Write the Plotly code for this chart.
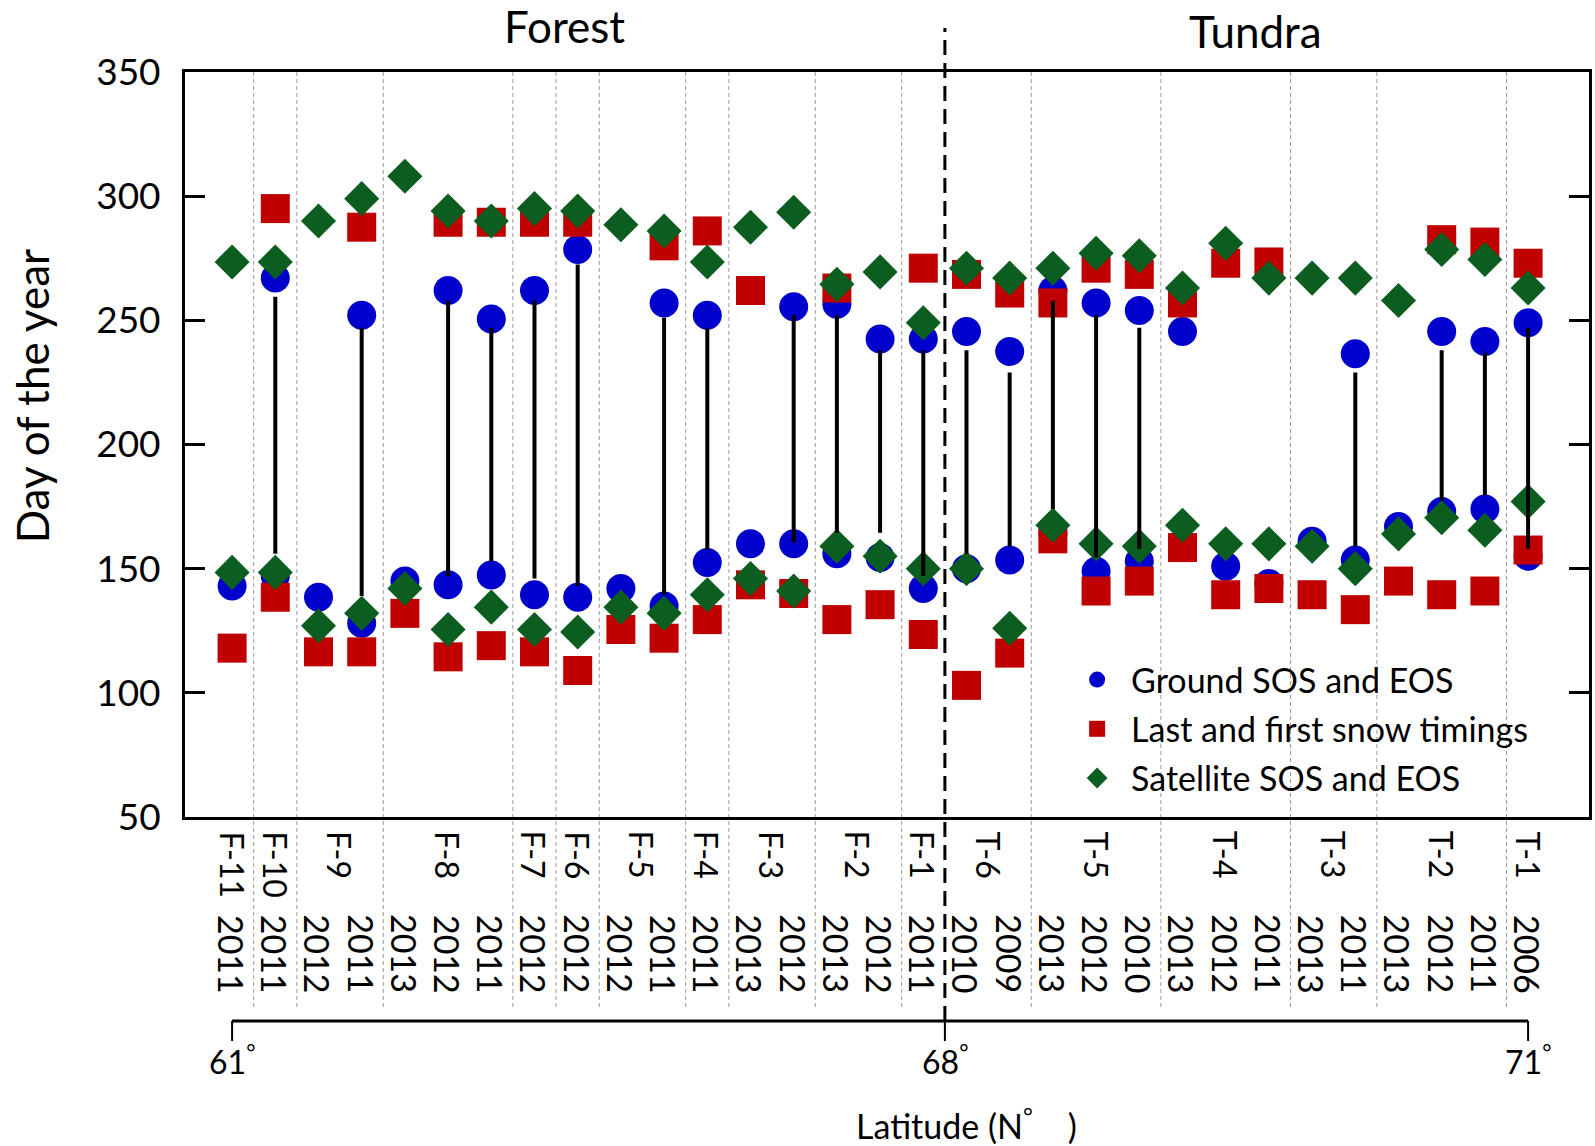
import plotly.graph_objects as go

# ---- data -------------------------------------------------------------
# one column per site-year, ordered by latitude (south -> north)
site_names = ["F-11", "F-10", "F-9", "F-8", "F-7", "F-6", "F-5", "F-4", "F-3", "F-2", "F-1",
              "T-6", "T-5", "T-4", "T-3", "T-2", "T-1"]
site_centers = [0, 1, 2.5, 5, 7, 8, 9.5, 11, 12.5, 14.5, 16,
                17.5, 20, 23, 25.5, 28, 30]
site_bounds = [0.5, 1.5, 3.5, 6.5, 7.5, 8.5, 10.5, 11.5, 13.5, 15.5,
               18.5, 21.5, 24.5, 26.5, 29.5]
zone_bound = 16.5

years = [2011, 2011, 2012, 2011, 2013, 2012, 2011, 2012, 2012, 2012, 2011, 2011, 2013, 2012,
         2013, 2012, 2011,
         2010, 2009, 2013, 2012, 2010, 2013, 2012, 2011, 2013, 2011, 2013, 2012, 2011, 2006]

ground_sos = [143, 147, 138.5, 128, 145, 143.5, 147.5, 139.5, 138.5, 142, 135, 152.5, 160, 160,
              156, 154.5, 142,
              150, 153.5, 164, 149, 153, None, 151, 144, 161, 153.5, 167, 173, 174, 155]
ground_eos = [None, 267, None, 252, None, 262, 250.5, 262, 278.5, None, 257, 252, None, 255.5,
              256.5, 242.5, 242.5,
              245.5, 237.5, 262, 257, 254, 245.5, None, None, None, 236.5, None, 245.5, 241.5, 249]

snow_last = [118, 138.5, 116.5, 116.5, 132, 114.5, 119, 116.5, 109, 125.5, 122, 129.5, 143.5, 140,
             129.5, 135.5, 123.5,
             103, 116, 162, 141, 145, 158.5, 139.5, 142, 139.5, 133.5, 145, 139.5, 141, 157.5]
snow_first = [None, 295, None, 287.5, None, 289.5, 289.5, 289.5, 289.5, None, 280, 286, 262, None,
              263, None, 271,
              268.5, 261, 257, 271, 268.5, 257, 273, 273.5, None, None, None, 282.5, 281.5, 273]

sat_sos = [148.5, 148.5, 127, 132, 142, 125.5, 134.5, 125.5, 124.5, 134.5, 132, 139.5, 146, 141,
           159, 155, 150,
           150, 126, 167.5, 160, 159, 167.5, 160, 160, 159, 150, 164, 170.5, 165.5, 177]
sat_eos = [273.5, 273.5, 290, 299, 308, 294, 290, 295, 294, 288.5, 286, 273.5, 287.5, 293.5,
           264.5, 269.5, 249,
           271, 267, 271, 277, 276, 263, 281, 267, 267, 267, 258, 278.5, 274.5, 263]

# growing-season bars (upper and lower ends)
season_top = [None, 259.5, None, 247, None, 258, 247, 258, 272.5, None, 251, 247, None, 252,
              252, 238, 238,
              238, 229, 258, 252, 247, None, None, None, None, 229, None, 238, 237, 247]
season_bottom = [None, 156, None, 139, None, 147, 153, 146, 143, None, 139.5, 157.5, None, 160.5,
                 164.5, 164.5, 147,
                 156, 159, 174, 154.5, 158, None, None, None, None, 159, None, 177.5, 179.5, 158]

lat_pos = [0, 16.5, 30]
lat_text = ["61", "68", "71"]

# ---- styling ----------------------------------------------------------
FONT = "Lato"
BLUE = "#0000CC"
RED = "#C00000"
GREEN = "#0B5E1F"

W, H = 1595, 1146
ML, MR, MT, MB = 185, 3, 72, 329
PH = H - MT - MB


def py(px_from_top):
    """paper y for an absolute pixel row"""
    return (H - MB - px_from_top) / PH


def px(px_from_left):
    return (px_from_left - ML) / (W - ML - MR)


def txt(size):
    return dict(size=size, family=FONT, color="black")


idx = list(range(len(years)))

fig = go.Figure()


def pair_trace(lower, upper, name, symbol, size, color):
    xs, ys = [], []
    for i in idx:
        for v in (lower[i], upper[i]):
            if v is not None:
                xs.append(i)
                ys.append(v)
    fig.add_trace(go.Scatter(
        x=xs, y=ys, mode="markers", name=name, legendgroup=name,
        marker=dict(symbol=symbol, size=size, color=color, line=dict(width=0)),
    ))


pair_trace(ground_sos, ground_eos, "Ground SOS and EOS", "circle", 29, BLUE)
pair_trace(snow_last, snow_first, "Last and first snow timings", "square", 29, RED)
pair_trace(sat_sos, sat_eos, "Satellite SOS and EOS", "diamond", 27, GREEN)

lx, ly = [], []
for i in idx:
    if season_top[i] is not None and season_bottom[i] is not None:
        lx += [i, i, None]
        ly += [season_top[i], season_bottom[i], None]
fig.add_trace(go.Scatter(x=lx, y=ly, mode="lines", line=dict(color="black", width=4),
                         showlegend=False, hoverinfo="skip"))

shapes = []
for b in site_bounds:
    shapes.append(dict(type="line", xref="x", yref="paper", x0=b, x1=b,
                       y0=py(1007), y1=1, line=dict(color="#9a9a9a", width=1, dash="4px,3px"),
                       layer="below"))
shapes.append(dict(type="line", xref="x", yref="paper", x0=zone_bound, x1=zone_bound,
                   y0=py(1021), y1=py(28), line=dict(color="black", width=3, dash="15px,8px")))
# latitude bar
shapes.append(dict(type="line", xref="x", yref="paper", x0=lat_pos[0], x1=lat_pos[-1],
                   y0=py(1021), y1=py(1021), line=dict(color="black", width=3)))
for p in lat_pos:
    shapes.append(dict(type="line", xref="x", yref="paper", x0=p, x1=p,
                       y0=py(1021), y1=py(1041), line=dict(color="black", width=2)))

ann = []
ann.append(dict(text="Forest", x=7.7, xref="x", y=py(26), yref="paper", xanchor="center",
                yanchor="middle", showarrow=False, font=txt(44)))
ann.append(dict(text="Tundra", x=23.7, xref="x", y=py(31), yref="paper", xanchor="center",
                yanchor="middle", showarrow=False, font=txt(44)))
ann.append(dict(text="Day of the year", x=px(32), xref="paper", y=py(396), yref="paper",
                xanchor="center", yanchor="middle", textangle=-90, showarrow=False,
                font=txt(44)))
for name, c in zip(site_names, site_centers):
    ann.append(dict(text=name, x=c, xref="x", y=py(829), yref="paper", xanchor="center",
                    yanchor="top", textangle=90, showarrow=False, font=txt(32)))
for i, yr in zip(idx, years):
    ann.append(dict(text=str(yr), x=i, xref="x", y=py(954), yref="paper", xanchor="center",
                    yanchor="middle", textangle=90, showarrow=False, font=txt(34)))
for p, t in zip(lat_pos, lat_text):
    ann.append(dict(text=t + "<sup>°</sup>", x=p, xref="x", y=py(1060), yref="paper",
                    xanchor="center", yanchor="middle", showarrow=False, font=txt(32)))
ann.append(dict(text="Latitude (N<sup>°</sup>    )", x=px(968), xref="paper", y=py(1124),
                yref="paper", xanchor="center", yanchor="middle", showarrow=False,
                font=txt(34)))

fig.update_layout(
    width=W, height=H,
    margin=dict(l=ML, r=MR, t=MT, b=MB),
    paper_bgcolor="white", plot_bgcolor="white",
    font=dict(family=FONT, color="black"),
    showlegend=True,
    legend=dict(x=px(1065), y=py(651), xanchor="left", yanchor="top",
                bgcolor="rgba(0,0,0,0)", font=txt(34),
                tracegroupgap=2, itemwidth=58),
    shapes=shapes,
    annotations=ann,
)
fig.update_xaxes(range=[-1.09, 31.41], showgrid=False, zeroline=False, showticklabels=False,
                 ticks="", showline=True, linecolor="black", linewidth=3, mirror=True)
fig.update_yaxes(range=[50, 350], dtick=50, showgrid=False, zeroline=False,
                 ticks="inside", ticklen=20, tickwidth=3, tickcolor="black",
                 showline=True, linecolor="black", linewidth=3, mirror="ticks",
                 tickfont=txt(37), ticklabelstandoff=14)

fig.write_html("out.html")
